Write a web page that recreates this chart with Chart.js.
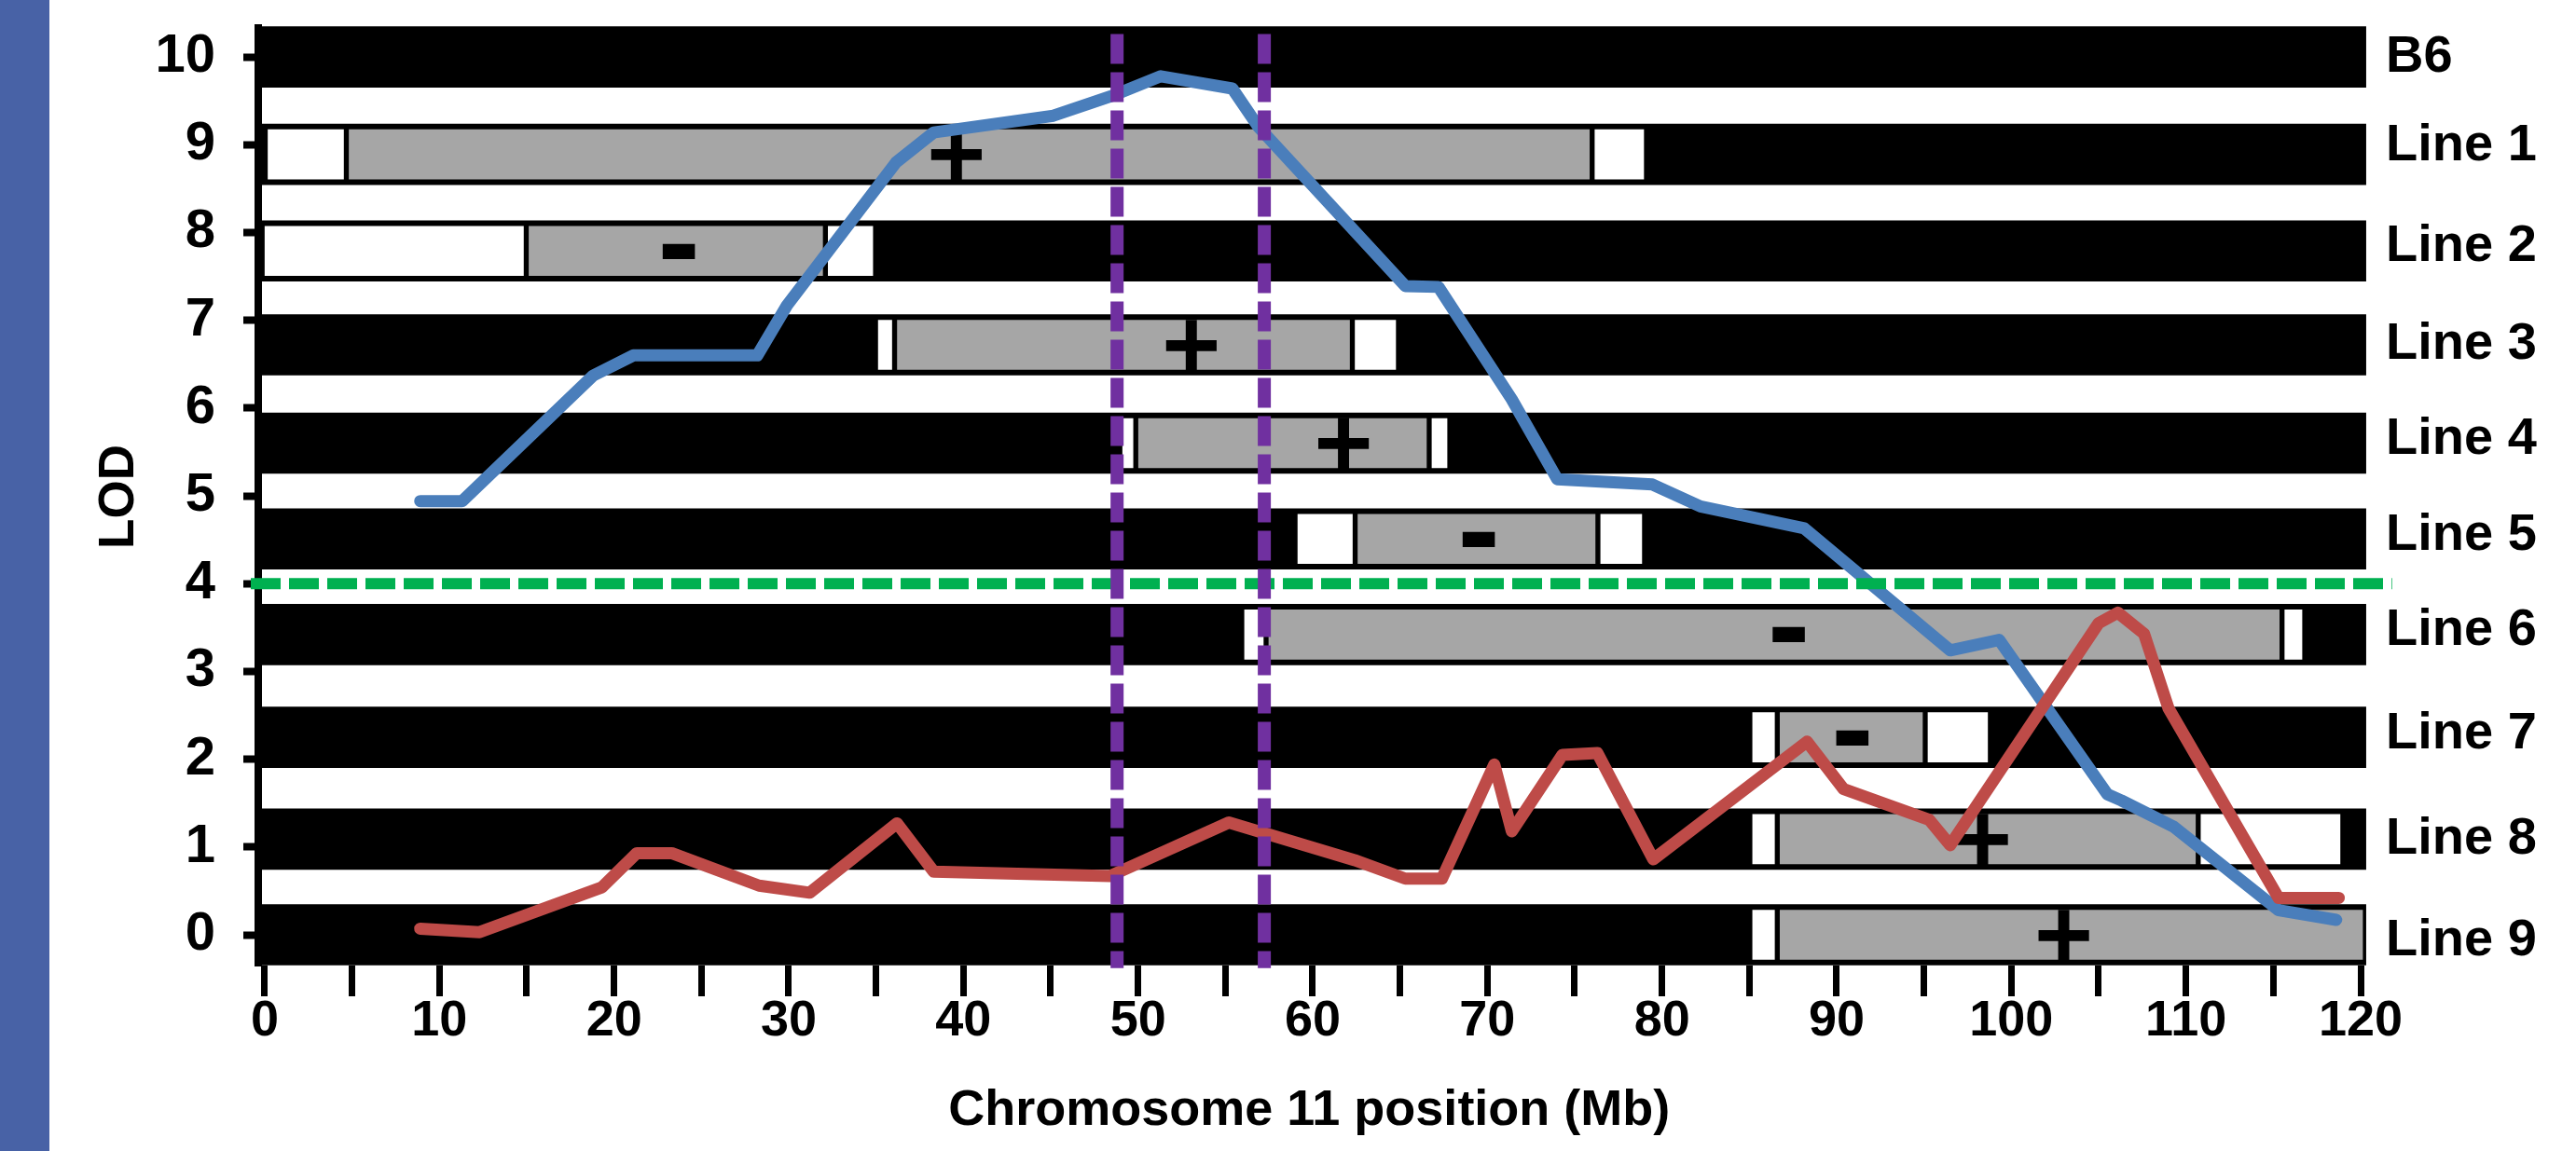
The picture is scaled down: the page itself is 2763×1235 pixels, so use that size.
<!DOCTYPE html>
<html>
<head>
<meta charset="utf-8">
<script src="https://cdn.jsdelivr.net/npm/chart.js@4.4.1/dist/chart.umd.min.js"></script>
<style>
  html, body { margin: 0; padding: 0; background: #fff; overflow: hidden; }
  #wrap { position: relative; width: 2763px; height: 1235px; }
  #strip { position: absolute; left: 0; top: 0; width: 53px; height: 1235px; background: #4862a6; }
  #chart { position: absolute; left: 0; top: 0; }
</style>
</head>
<body>
<div id="wrap">
  <div id="strip"></div>
  <canvas id="chart" width="2763" height="1235"></canvas>
</div>
<script>
// rows (strains) and where they sit on the LOD axis
const rowNames = ["B6", "Line 1", "Line 2", "Line 3", "Line 4", "Line 5", "Line 6", "Line 7", "Line 8", "Line 9"];
const rowPos   = [10, 8.89, 7.79, 6.72, 5.6, 4.51, 3.42, 2.25, 1.09, 0];
const labelPos = [10.0, 8.99, 7.84, 6.72, 5.64, 4.55, 3.47, 2.29, 1.09, -0.07];
const rowExtent = [-0.4, 120.3];

// congenic segments: w = unknown/boundary, g = donor region
const segRow   = [1, 1, 1, 2, 2, 2, 3, 3, 3, 4, 4, 4, 5, 5, 5, 6, 6, 6, 7, 7, 7, 8, 8, 8, 9, 9];
const segKind  = ["w", "g", "w", "w", "g", "w", "w", "g", "w", "w", "g", "w", "w", "g", "w", "w", "g", "w", "w", "g", "w", "w", "g", "w", "w", "g"];
const segStart = [0, 4.67, 76.0, -0.15, 14.97, 32.1, 34.97, 36.06, 62.27, 48.96, 49.87, 66.67, 58.99, 62.43, 76.33, 55.94, 57.33, 115.5, 85.03, 86.6, 95.07, 85.03, 86.6, 110.7, 85.03, 86.6];
const segEnd   = [4.67, 76.0, 79.11, 14.97, 32.1, 34.97, 36.06, 62.27, 64.91, 49.87, 66.67, 67.85, 62.43, 76.33, 79.0, 57.33, 115.5, 116.8, 86.6, 95.07, 98.8, 86.6, 110.7, 118.98, 86.6, 120.27];

// +/- effect marks
const markerRow  = [1, 2, 3, 4, 5, 6, 7, 8, 9];
const markerPos  = [39.6, 23.7, 53.05, 61.76, 69.5, 87.25, 90.9, 98.35, 103.0];
const markerSign = ["+", "-", "+", "+", "-", "-", "-", "+", "+"];

// LOD curves
const blueMb  = [8.9, 11.3, 18.8, 21.1, 28.2, 29.9, 36.15, 38.3, 45.15, 48.7, 51.3, 55.4, 56.9, 65.3, 67.2, 71.4, 74.0, 79.45, 82.2, 88.15, 96.5, 99.3, 105.5, 106.3, 109.3, 115.3, 118.6];
const blueLod = [4.94, 4.94, 6.37, 6.6, 6.6, 7.17, 8.8, 9.14, 9.33, 9.57, 9.78, 9.64, 9.2, 7.39, 7.38, 6.1, 5.19, 5.13, 4.88, 4.63, 3.24, 3.36, 1.6, 1.53, 1.23, 0.28, 0.17];
const redMb   = [8.9, 12.3, 19.3, 21.3, 23.3, 28.3, 31.2, 36.2, 38.3, 48.4, 55.2, 62.4, 65.3, 67.4, 70.4, 71.4, 74.3, 76.3, 79.5, 88.3, 90.4, 95.3, 96.5, 105.0, 106.1, 107.6, 109.0, 115.3, 118.75];
const redLod  = [0.07, 0.03, 0.54, 0.93, 0.93, 0.56, 0.48, 1.27, 0.72, 0.67, 1.28, 0.85, 0.64, 0.64, 1.94, 1.18, 2.05, 2.07, 0.86, 2.2, 1.66, 1.31, 1.02, 3.55, 3.67, 3.43, 2.58, 0.42, 0.42];

// threshold and support interval
const lodThreshold = 4;
const thresholdSpan = [-0.8, 121.8];
const ciBounds = [48.8, 57.23];
const ciSpan = [10.26, -0.38];

const yTickValues = [0, 1, 2, 3, 4, 5, 6, 7, 8, 9, 10];
const xTickValues = [0, 5, 10, 15, 20, 25, 30, 35, 40, 45, 50, 55, 60, 65, 70, 75, 80, 85, 90, 95, 100, 105, 110, 115, 120];
const xTickLabels = ["0", "", "10", "", "20", "", "30", "", "40", "", "50", "", "60", "", "70", "", "80", "", "90", "", "100", "", "110", "", "120"];

const fontFamily = '"Liberation Sans", Arial, sans-serif';
Chart.defaults.font.family = fontFamily;
Chart.defaults.font.weight = "bold";
Chart.defaults.color = "#000";

function segments(kind) {
  const out = [];
  segKind.forEach((k, i) => {
    if (k === kind) out.push({ x: [segStart[i], segEnd[i]], y: rowPos[segRow[i]] });
  });
  return out;
}

function curve(xs, ys) {
  return xs.map((m, i) => ({ x: m, y: ys[i] }));
}

const barBase = { type: "bar", indexAxis: "y", grouped: false, clip: false, borderSkipped: false };
const lineBase = { type: "line", pointRadius: 0, tension: 0, fill: false };

const markerPlugin = {
  id: "markers",
  afterDatasetDraw(chart, args) {
    if (chart.data.datasets[args.index].label !== "gray") return;
    const { ctx } = chart;
    const x = chart.scales.x, y = chart.scales.y;
    ctx.save();
    ctx.fillStyle = "#000";
    ctx.textAlign = "left";
    ctx.textBaseline = "alphabetic";
    markerSign.forEach((s, i) => {
      ctx.font = "bold " + (s === "+" ? 108 : 136) + "px " + fontFamily;
      const m = ctx.measureText(s);
      const cx = x.getPixelForValue(markerPos[i]);
      const cy = y.getPixelForValue(rowPos[markerRow[i]]);
      const tx = cx + (m.actualBoundingBoxLeft - m.actualBoundingBoxRight) / 2;
      const ty = cy + (m.actualBoundingBoxAscent - m.actualBoundingBoxDescent) / 2;
      ctx.fillText(s, tx, ty);
    });
    ctx.restore();
  }
};

new Chart(document.getElementById("chart"), {
  type: "line",
  data: {
    datasets: [
      { ...barBase, label: "rows", data: rowPos.map(p => ({ x: rowExtent, y: p })),
        backgroundColor: "#000", borderWidth: 0, barThickness: 65, order: 10 },
      { ...barBase, label: "white", data: segments("w"),
        backgroundColor: "#fff", borderColor: "#000", borderWidth: 3, barThickness: 59, order: 9 },
      { ...barBase, label: "gray", data: segments("g"),
        backgroundColor: "#a6a6a6", borderColor: "#000", borderWidth: 3, barThickness: 59, order: 8 },
      { ...lineBase, label: "blue", data: curve(blueMb, blueLod),
        borderColor: "#4a7ebb", borderWidth: 13, borderCapStyle: "round", borderJoinStyle: "round", order: 3 },
      { ...lineBase, label: "red", data: curve(redMb, redLod),
        borderColor: "#be4b48", borderWidth: 13, borderCapStyle: "round", borderJoinStyle: "round", order: 2 },
      { ...lineBase, label: "threshold", clip: false,
        data: thresholdSpan.map(m => ({ x: m, y: lodThreshold })),
        borderColor: "#00b050", borderWidth: 12, borderDash: [32, 9], order: 1 },
      { ...lineBase, label: "ci-left", clip: false,
        data: ciSpan.map(v => ({ x: ciBounds[0], y: v })),
        borderColor: "#7030a0", borderWidth: 14, borderDash: [32, 9], order: 0 },
      { ...lineBase, label: "ci-right", clip: false,
        data: ciSpan.map(v => ({ x: ciBounds[1], y: v })),
        borderColor: "#7030a0", borderWidth: 14, borderDash: [32, 9], order: 0 }
    ]
  },
  options: {
    responsive: false,
    animation: false,
    events: [],
    layout: { padding: { left: 0, right: 0, top: 30, bottom: 0 } },
    plugins: { legend: { display: false }, tooltip: { enabled: false } },
    scales: {
      x: {
        type: "linear", position: "bottom", min: -0.4, max: 120, offset: false,
        afterBuildTicks: s => { s.ticks = xTickValues.map(v => ({ value: v })); },
        afterFit: s => { s.height = 199; s.paddingLeft = 0; s.paddingRight = 0; },
        ticks: {
          autoSkip: false, maxRotation: 0, minRotation: 0, padding: 0, color: "#000",
          font: { size: 54, lineHeight: 1, weight: "bold" },
          callback: (v, i) => xTickLabels[i]
        },
        grid: { offset: false, drawOnChartArea: false, drawTicks: true, tickLength: 33, tickWidth: 7, tickColor: "#000" },
        border: { display: false },
        title: {
          display: true, text: "Chromosome 11 position (Mb)", color: "#000",
          font: { size: 54, lineHeight: 1, weight: "bold" }, padding: { top: 0, bottom: 15.4 }
        }
      },
      y: {
        type: "linear", position: "left", min: -0.35, max: 10.33, offset: false,
        afterBuildTicks: s => { s.ticks = yTickValues.map(v => ({ value: v })); },
        afterFit: s => { s.width = 276.5; s.paddingTop = 0; s.paddingBottom = 0; },
        ticks: {
          padding: 30, color: "#000",
          font: { size: 58, lineHeight: 1, weight: "bold" },
          callback: v => String(v)
        },
        grid: { offset: false, drawOnChartArea: false, drawTicks: true, tickLength: 15.5, tickWidth: 8, tickColor: "#000" },
        border: { display: true, width: 8, color: "#000" },
        title: {
          display: true, text: "LOD", color: "#000",
          font: { size: 53, lineHeight: 1, weight: "bold" }, padding: { top: 101.5, bottom: 0 }
        }
      },
      y2: {
        type: "linear", position: "right", min: -0.35, max: 10.33, offset: false,
        afterBuildTicks: s => { s.ticks = labelPos.map(v => ({ value: v })); },
        afterFit: s => { s.width = 231; s.paddingTop = 0; s.paddingBottom = 0; },
        ticks: {
          padding: 27, color: "#000",
          font: { size: 56, lineHeight: 1, weight: "bold" },
          callback: (v, i) => rowNames[i]
        },
        grid: { display: false, offset: false, drawOnChartArea: false, drawTicks: false, tickLength: 0 },
        border: { display: false }
      }
    }
  },
  plugins: [markerPlugin]
});
</script>
</body>
</html>
